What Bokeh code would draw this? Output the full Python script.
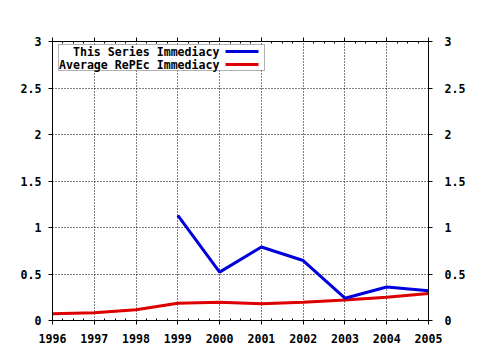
from bokeh.plotting import figure
from bokeh.models import (Range1d, LinearAxis, FixedTicker, Label, BoxAnnotation,
                          CustomLabelingPolicy)
from bokeh.embed import file_html
from bokeh.resources import INLINE

years = [1996, 1997, 1998, 1999, 2000, 2001, 2002, 2003, 2004, 2005]
series_years = [1999, 2000, 2001, 2002, 2003, 2004, 2005]
series_immediacy = [1.13, 0.52, 0.79, 0.645, 0.24, 0.36, 0.32]
repec_immediacy = [0.072, 0.083, 0.115, 0.186, 0.197, 0.18, 0.197, 0.22, 0.25, 0.29]
y_ticks = [0, 0.5, 1, 1.5, 2, 2.5, 3]
y_tick_labels = ["0", "0.5", "1", "1.5", "2", "2.5", "3"]
legend_labels = ["This Series Immediacy", "Average RePEc Immediacy"]

BLUE = "#0000dd"
RED = "#dd0000"
FONT = "DejaVu Sans Mono"
FSIZE = "11.6px"

p = figure(width=480, height=350, output_backend="svg", toolbar_location=None,
           x_range=Range1d(1996, 2005), y_range=Range1d(0, 3),
           min_border_left=52, min_border_right=52, min_border_top=41, min_border_bottom=30,
           x_axis_location=None, y_axis_location=None)
p.outline_line_color = "black"
p.outline_line_width = 1
p.background_fill_color = "white"

def style_axis(ax, standoff):
    ax.axis_line_color = "black"
    ax.major_tick_line_color = "black"
    ax.minor_tick_line_color = "black"
    ax.major_tick_out = 4
    ax.major_tick_in = 0
    ax.minor_tick_out = 0
    ax.minor_tick_in = 2
    ax.major_label_text_font = FONT
    ax.major_label_text_font_style = "bold"
    ax.major_label_text_font_size = FSIZE
    ax.major_label_text_color = "black"
    ax.major_label_standoff = standoff

xt = FixedTicker(ticks=years, minor_ticks=[y + f for y in years[:-1] for f in (0.25, 0.5, 0.75)])
yt = FixedTicker(ticks=y_ticks, minor_ticks=[])
overrides = {t: l for t, l in zip(y_ticks, y_tick_labels)}

xb = LinearAxis(ticker=xt)
style_axis(xb, 9)
p.add_layout(xb, "below")
xa = LinearAxis(ticker=xt, major_label_policy=CustomLabelingPolicy(
    code="const ids = [...indices]; for (const i of ids) indices.unset(i); return indices"))
style_axis(xa, 0)
p.add_layout(xa, "above")
yl = LinearAxis(ticker=yt, major_label_overrides=overrides)
style_axis(yl, 7)
p.add_layout(yl, "left")
yr = LinearAxis(ticker=yt, major_label_overrides=overrides)
style_axis(yr, 12)
p.add_layout(yr, "right")

p.xgrid.ticker = xt
p.ygrid.ticker = yt
for g in (p.xgrid, p.ygrid):
    g.grid_line_color = "black"
    g.grid_line_dash = "1 2"
    g.grid_line_width = 1

p.line(years, repec_immediacy, line_color=RED, line_width=3)
p.line(series_years, series_immediacy, line_color=BLUE, line_width=3)

# manual legend (label on left, sample on right)
p.add_layout(BoxAnnotation(left=6, right=212, top=276, bottom=250,
                           left_units="screen", right_units="screen",
                           top_units="screen", bottom_units="screen",
                           fill_color="white", fill_alpha=1.0,
                           line_color="black", line_width=1))
for i, (lab, col) in enumerate(zip(legend_labels, [BLUE, RED])):
    yc = 269 - 13 * i
    p.add_layout(Label(x=167, y=yc, x_units="screen", y_units="screen", text=lab,
                       text_align="right", text_baseline="middle",
                       text_font=FONT, text_font_style="bold", text_font_size=FSIZE,
                       text_color="black"))
    p.add_layout(BoxAnnotation(left=173, right=206, top=yc + 1.5, bottom=yc - 1.5,
                               left_units="screen", right_units="screen",
                               top_units="screen", bottom_units="screen",
                               fill_color=col, fill_alpha=1.0, line_color=None))

open("out.html", "w").write(file_html(p, INLINE))
